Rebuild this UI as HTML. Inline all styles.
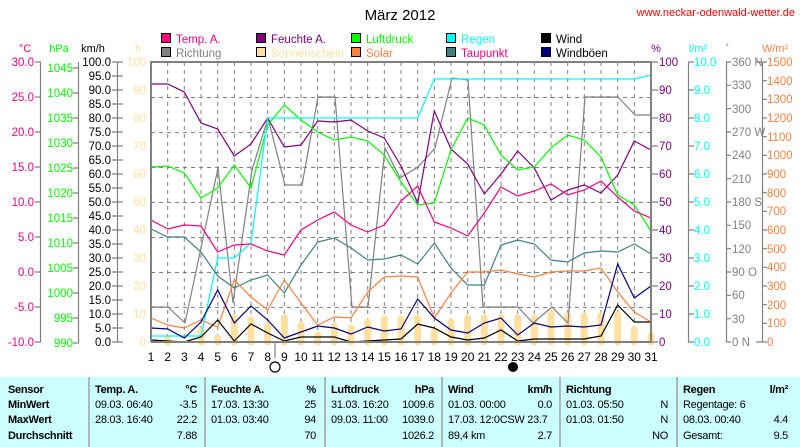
<!DOCTYPE html>
<html><head><meta charset="utf-8"><style>
body{margin:0;background:#fff;width:800px;height:447px;overflow:hidden;font-family:"Liberation Sans",sans-serif}
svg{position:absolute;left:0;top:0}
</style></head><body>
<svg width="800" height="447" viewBox="0 0 800 447" font-family="Liberation Sans, sans-serif">
<text x="400" y="20" font-size="15" text-anchor="middle">März 2012</text>
<text x="795" y="16" font-size="11" fill="#ff0000" text-anchor="end">www.neckar-odenwald-wetter.de</text>
<g font-size="11.5" stroke="#000" stroke-width="1">
<rect x="161.5" y="33.5" width="9" height="9" fill="#ff0080"/><rect x="256.5" y="33.5" width="9" height="9" fill="#800080"/><rect x="351.5" y="33.5" width="9" height="9" fill="#00ff00"/><rect x="446.5" y="33.5" width="9" height="9" fill="#00ffff"/><rect x="541.5" y="33.5" width="9" height="9" fill="#000"/>
<rect x="161.5" y="47.5" width="9" height="9" fill="#808080"/><rect x="256.5" y="47.5" width="9" height="9" fill="#ffe0a0"/><rect x="351.5" y="47.5" width="9" height="9" fill="#ff8040"/><rect x="446.5" y="47.5" width="9" height="9" fill="#408080"/><rect x="541.5" y="47.5" width="9" height="9" fill="#000080"/>
</g>
<g font-size="11.5">
<text x="176" y="43" fill="#ff0080">Temp. A.</text><text x="271" y="43" fill="#800080">Feuchte A.</text><text x="366" y="43" fill="#00ff00">Luftdruck</text><text x="461" y="43" fill="#00ffff">Regen</text><text x="556" y="43" fill="#000">Wind</text>
<text x="176" y="57" fill="#808080">Richtung</text><text x="271" y="57" fill="#ffe0a0">Sonnenschein</text><text x="366" y="57" fill="#ff8040">Solar</text><text x="461" y="57" fill="#ff0080">Taupunkt</text><text x="556" y="57" fill="#000">Windböen</text>
</g>
<g font-size="11">
<text x="25" y="52" fill="#ff0080" text-anchor="middle">°C</text>
<text x="59" y="52" fill="#00ff00" text-anchor="middle">hPa</text>
<text x="93" y="52" fill="#000" text-anchor="middle">km/h</text>
<text x="138" y="52" fill="#ffe0a0" text-anchor="middle">h</text>
<text x="656" y="52" fill="#800080" text-anchor="middle">%</text>
<text x="698" y="52" fill="#00ffff" text-anchor="middle">l/m²</text>
<text x="727" y="50" fill="#808080" text-anchor="middle" font-size="9">°</text>
<text x="775" y="52" fill="#ff8040" text-anchor="middle">W/m²</text>
</g>
<g stroke="#808080" stroke-dasharray="4,4" stroke-width="1">
<path d="M151 97.5H651M151 132.5H651M151 167.5H651M151 202.5H651M151 237.5H651M151 272.5H651M151 307.5H651"/>
<path d="M167.7 62V342M184.3 62V342M201 62V342M217.7 62V342M234.3 62V342M251 62V342M267.7 62V342M284.3 62V342M301 62V342M317.7 62V342M334.3 62V342M351 62V342M367.7 62V342M384.3 62V342M401 62V342M417.7 62V342M434.3 62V342M451 62V342M467.7 62V342M484.3 62V342M501 62V342M517.7 62V342M534.3 62V342M551 62V342M567.7 62V342M584.3 62V342M601 62V342M617.7 62V342M634.3 62V342"/>
</g>
<g stroke="#ffe0a0" stroke-width="7" stroke-linecap="round">
<path d="M167.7 342V339M201 342V331M217.7 342V338M234.3 342V318M251 342V320M267.7 342V326M284.3 342V318M301 342V325M317.7 342V335M334.3 342V326M351 342V328M367.7 342V322M384.3 342V319M401 342V319M417.7 342V318M434.3 342V331M451 342V322M467.7 342V318M484.3 342V318M501 342V318M517.7 342V318M534.3 342V318M551 342V314M567.7 342V316M584.3 342V316M601 342V316M617.7 342V315M634.3 342V330M651 342V336"/>
</g>
<g fill="none" stroke-width="1.2">
<polyline stroke="#808080" points="151,307 168,307 185,323 218,168 233,303 252,170 268,118 285,185 302,185 318,97 335,97 352,307 368,307 385,148 400,178 418,167 435,148 452,78 468,80 483,307 518,307 533,323 552,307 568,323 585,97 618,97 635,115 651,115"/>
<polyline stroke="#800080" points="151,84 167.7,84 184.3,92 201,123 217.7,129 234.3,156 251,144 267.7,118 284.3,147 301,145 317.7,121 334.3,122 351,120 367.7,131 384.3,138 401,166 417.7,203 434.3,111 451,149 467.7,164 484.3,194 501,174 517.7,151 534.3,168 551,200 567.7,190 584.3,185 601,193 617.7,175 634.3,141 651,150"/>
<polyline stroke="#00ff00" points="151,167 167.7,166 184.3,173 201,198 217.7,188 234.3,165 251,188 267.7,125 284.3,105 301,120 317.7,132 334.3,140 351,137 367.7,141 384.3,155 401,182 417.7,205 434.3,203 451,150 467.7,118 484.3,125 501,155 517.7,170 534.3,167 551,148 567.7,135 584.3,140 601,157 617.7,195 634.3,205 651,231"/>
<polyline stroke="#00ffff" points="151,336 201,336 217.7,258 234.3,258 251,243 267.7,118 417.7,118 434.3,79 634.3,79 651,75"/>
<polyline stroke="#ff0080" points="151,220 167.7,229 184.3,225 201,226 217.7,252 234.3,245 251,244 267.7,251 284.3,255 301,230 317.7,220 334.3,212 351,225 367.7,232 384.3,225 401,201 417.7,186 434.3,222 451,228 467.7,236 484.3,213 501,187 517.7,196 534.3,191 551,184 567.7,195 584.3,190 601,181 617.7,197 634.3,211 651,218"/>
<polyline stroke="#408080" points="151,229 167.7,237 184.3,237 201,252 217.7,276 234.3,288 251,280 267.7,275 284.3,293 301,265 317.7,242 334.3,238 351,248 367.7,260 384.3,259 401,255 417.7,264 434.3,243 451,268 467.7,285 484.3,285 501,245 517.7,240 534.3,244 551,260 567.7,262 584.3,253 601,251 617.7,252 634.3,244 651,254"/>
<polyline stroke="#ff8040" points="151,318 167.7,325 184.3,328 201,320 217.7,327 234.3,280 251,297 267.7,310 284.3,280 301,303 317.7,325 334.3,317 351,318 367.7,292 384.3,277 401,276 417.7,277 434.3,318 451,293 467.7,272 484.3,272 501,270 517.7,274 534.3,277 551,272 567.7,271 584.3,271 601,268 617.7,292 634.3,312 651,322"/>
<polyline stroke="#000080" points="151,328 167.7,329 184.3,338 201,322 217.7,290 234.3,323 251,306 267.7,320 284.3,338 301,332 317.7,326 334.3,328 351,334 367.7,327 384.3,331 401,329 417.7,299 434.3,318 451,330 467.7,333 484.3,323 501,318 517.7,335 534.3,323 551,327 567.7,326 584.3,327 601,325 617.7,264 634.3,298 651,286"/>
<polyline stroke="#000" points="151,340 167.7,341 184.3,342 201,337 217.7,320 234.3,341 251,324 267.7,333 284.3,341 301,337 317.7,337 334.3,337 351,342 367.7,341 384.3,340 401,339 417.7,324 434.3,328 451,337 467.7,340 484.3,338 501,330 517.7,341 534.3,339 551,339 567.7,339 584.3,339 601,336 617.7,305 634.3,322 651,322"/>
</g>
<path d="M151 342V62H651V342H151" fill="none" stroke="#808080" stroke-width="2"/>
<g stroke="#808080" stroke-width="1.2" fill="none">
<path d="M40.5 62V342M35 62H41M35 97H41M35 132H41M35 167H41M35 202H41M35 237H41M35 272H41M35 307H41M35 342H41"/>
<path d="M78.5 62V342M73 68H79M73 93H79M73 118H79M73 143H79M73 168H79M73 193H79M73 218H79M73 243H79M73 268H79M73 293H79M73 318H79M73 343H79"/>
<path d="M117.5 62V342M112 62H123M112 76H123M112 90H123M112 104H123M112 118H123M112 132H123M112 146H123M112 160H123M112 174H123M112 188H123M112 202H123M112 216H123M112 230H123M112 244H123M112 258H123M112 272H123M112 286H123M112 300H123M112 314H123M112 328H123M112 342H123"/>
<path d="M651 62H658M651 90H658M651 118H658M651 146H658M651 174H658M651 202H658M651 230H658M651 258H658M651 286H658M651 314H658M651 342H658"/>
<path d="M688.5 62V342M688 62H694M688 90H694M688 118H694M688 146H694M688 174H694M688 202H694M688 230H694M688 258H694M688 286H694M688 314H694M688 342H694"/>
<path d="M726.5 62V342M726 62H731M726 85.3H731M726 108.7H731M726 132H731M726 155.3H731M726 178.7H731M726 202H731M726 225.3H731M726 248.7H731M726 272H731M726 295.3H731M726 318.7H731M726 342H731"/>
<path d="M762.5 62V342M756 62H767M762 80.7H767M762 99.3H767M762 118H767M762 136.7H767M762 155.3H767M762 174H767M762 192.7H767M762 211.3H767M762 230H767M762 248.7H767M762 267.3H767M762 286H767M762 304.7H767M762 323.3H767M756 342H767"/>
<path d="M275 342V358"/>
</g>
<g font-size="11.5" text-anchor="end">
<g fill="#ff0080"><text x="34" y="66">30.0</text><text x="34" y="101">25.0</text><text x="34" y="136">20.0</text><text x="34" y="171">15.0</text><text x="34" y="206">10.0</text><text x="34" y="241">5.0</text><text x="34" y="276">0.0</text><text x="34" y="311">-5.0</text><text x="34" y="346">-10.0</text></g>
<g fill="#00ff00"><text x="73" y="72">1045</text><text x="73" y="97">1040</text><text x="73" y="122">1035</text><text x="73" y="147">1030</text><text x="73" y="172">1025</text><text x="73" y="197">1020</text><text x="73" y="222">1015</text><text x="73" y="247">1010</text><text x="73" y="272">1005</text><text x="73" y="297">1000</text><text x="73" y="322">995</text><text x="73" y="347">990</text></g>
<g fill="#000"><text x="111" y="66">100.0</text><text x="111" y="80">95.0</text><text x="111" y="94">90.0</text><text x="111" y="108">85.0</text><text x="111" y="122">80.0</text><text x="111" y="136">75.0</text><text x="111" y="150">70.0</text><text x="111" y="164">65.0</text><text x="111" y="178">60.0</text><text x="111" y="192">55.0</text><text x="111" y="206">50.0</text><text x="111" y="220">45.0</text><text x="111" y="234">40.0</text><text x="111" y="248">35.0</text><text x="111" y="262">30.0</text><text x="111" y="276">25.0</text><text x="111" y="290">20.0</text><text x="111" y="304">15.0</text><text x="111" y="318">10.0</text><text x="111" y="332">5.0</text><text x="111" y="346">0.0</text></g>
<g fill="#ffe0a0"><text x="146" y="66">100</text><text x="146" y="94">90</text><text x="146" y="122">80</text><text x="146" y="150">70</text><text x="146" y="178">60</text><text x="146" y="206">50</text><text x="146" y="234">40</text><text x="146" y="262">30</text><text x="146" y="290">20</text><text x="146" y="318">10</text><text x="146" y="346">0</text></g>
</g>
<g font-size="11.5">
<g fill="#800080"><text x="659" y="66">100</text><text x="659" y="94">90</text><text x="659" y="122">80</text><text x="659" y="150">70</text><text x="659" y="178">60</text><text x="659" y="206">50</text><text x="659" y="234">40</text><text x="659" y="262">30</text><text x="659" y="290">20</text><text x="659" y="318">10</text><text x="659" y="346">0</text></g>
<g fill="#00ffff"><text x="694" y="66">10.0</text><text x="694" y="94">9.0</text><text x="694" y="122">8.0</text><text x="694" y="150">7.0</text><text x="694" y="178">6.0</text><text x="694" y="206">5.0</text><text x="694" y="234">4.0</text><text x="694" y="262">3.0</text><text x="694" y="290">2.0</text><text x="694" y="318">1.0</text><text x="694" y="346">0.0</text></g>
<g fill="#808080"><text x="732" y="66">360 N</text><text x="732" y="89">330</text><text x="732" y="113">300</text><text x="732" y="136">270 W</text><text x="732" y="159">240</text><text x="732" y="183">210</text><text x="732" y="206">180 S</text><text x="732" y="229">150</text><text x="732" y="253">120</text><text x="732" y="276">90  O</text><text x="732" y="299">60</text><text x="732" y="323">30</text><text x="732" y="346">0    N</text></g>
<g fill="#ff8040"><text x="767" y="66">1500</text><text x="767" y="85">1400</text><text x="767" y="103">1300</text><text x="767" y="122">1200</text><text x="767" y="141">1100</text><text x="767" y="159">1000</text><text x="767" y="178">900</text><text x="767" y="197">800</text><text x="767" y="215">700</text><text x="767" y="234">600</text><text x="767" y="253">500</text><text x="767" y="271">400</text><text x="767" y="290">300</text><text x="767" y="309">200</text><text x="767" y="327">100</text><text x="767" y="346">0</text></g>
</g>
<g font-size="12" text-anchor="middle" fill="#000">
<text x="151" y="361">1</text><text x="167.7" y="361">2</text><text x="184.3" y="361">3</text><text x="201" y="361">4</text><text x="217.7" y="361">5</text><text x="234.3" y="361">6</text><text x="251" y="361">7</text><text x="267.7" y="361">8</text><text x="284.3" y="361">9</text><text x="301" y="361">10</text><text x="317.7" y="361">11</text><text x="334.3" y="361">12</text><text x="351" y="361">13</text><text x="367.7" y="361">14</text><text x="384.3" y="361">15</text><text x="401" y="361">16</text><text x="417.7" y="361">17</text><text x="434.3" y="361">18</text><text x="451" y="361">19</text><text x="467.7" y="361">20</text><text x="484.3" y="361">21</text><text x="501" y="361">22</text><text x="517.7" y="361">23</text><text x="534.3" y="361">24</text><text x="551" y="361">25</text><text x="567.7" y="361">26</text><text x="584.3" y="361">27</text><text x="601" y="361">28</text><text x="617.7" y="361">29</text><text x="634.3" y="361">30</text><text x="651" y="361">31</text>
</g>
<circle cx="275" cy="367" r="5" fill="#fff" stroke="#000" stroke-width="1.2"/>
<circle cx="513" cy="367" r="5" fill="#000"/>
<rect x="0" y="377" width="800" height="70" fill="#ccffff"/>
<g stroke="#a0a0a0" stroke-width="1.5"><path d="M89 377V447M205 377V447M325 377V447M442 377V447M560 377V447M677 377V447"/></g>
<g font-size="11" fill="#000" letter-spacing="-0.3">
<g font-weight="bold"><text x="8" y="393">Sensor</text><text x="8" y="408">MinWert</text><text x="8" y="423">MaxWert</text><text x="8" y="439">Durchschnitt</text>
<text x="95" y="393">Temp. A.</text><text x="197" y="393" text-anchor="end">°C</text>
<text x="211" y="393">Feuchte A.</text><text x="316" y="393" text-anchor="end">%</text>
<text x="331" y="393">Luftdruck</text><text x="434" y="393" text-anchor="end">hPa</text>
<text x="448" y="393">Wind</text><text x="552" y="393" text-anchor="end">km/h</text>
<text x="566" y="393">Richtung</text>
<text x="683" y="393">Regen</text><text x="788" y="393" text-anchor="end">l/m²</text></g>
<text x="95" y="408">09.03.  06:40</text><text x="197" y="408" text-anchor="end">-3.5</text>
<text x="95" y="423">28.03.  16:40</text><text x="197" y="423" text-anchor="end">22.2</text>
<text x="197" y="439" text-anchor="end">7.88</text>
<text x="211" y="408">17.03.  13:30</text><text x="316" y="408" text-anchor="end">25</text>
<text x="211" y="423">01.03.  03:40</text><text x="316" y="423" text-anchor="end">94</text>
<text x="316" y="439" text-anchor="end">70</text>
<text x="331" y="408">31.03.  16:20</text><text x="434" y="408" text-anchor="end">1009.6</text>
<text x="331" y="423">09.03.  11:00</text><text x="434" y="423" text-anchor="end">1039.0</text>
<text x="434" y="439" text-anchor="end">1026.2</text>
<text x="448" y="408">01.03.  00:00</text><text x="552" y="408" text-anchor="end">0.0</text>
<text x="448" y="423">17.03.  12:0CSW 23.7</text>
<text x="448" y="439">89,4 km</text><text x="552" y="439" text-anchor="end">2.7</text>
<text x="566" y="408">01.03.  05:50</text><text x="668" y="408" text-anchor="end">N</text>
<text x="566" y="423">01.03.  01:50</text><text x="668" y="423" text-anchor="end">N</text>
<text x="668" y="439" text-anchor="end">NO</text>
<text x="683" y="408">Regentage: 6</text>
<text x="683" y="423">08.03.  00:40</text><text x="788" y="423" text-anchor="end">4.4</text>
<text x="683" y="439">Gesamt:</text><text x="788" y="439" text-anchor="end">9.5</text>
</g>
</svg>
</body></html>
